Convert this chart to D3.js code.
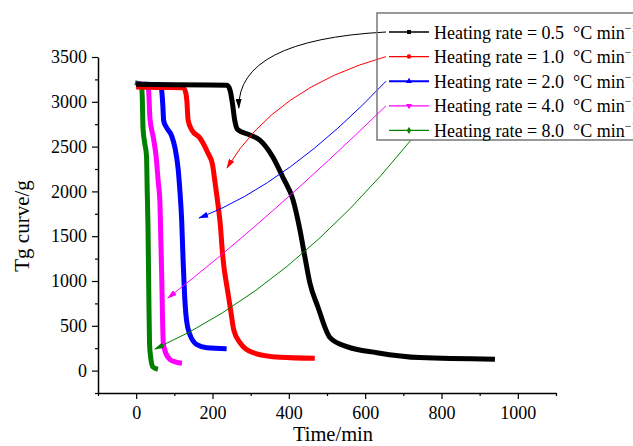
<!DOCTYPE html>
<html>
<head>
<meta charset="utf-8">
<script src="https://cdn.jsdelivr.net/npm/d3@7"></script>
<style>
  body { margin: 0; background: #fff; }
  svg, svg text { font-family: "Liberation Serif", "Times New Roman", serif; }
</style>
</head>
<body>
<div id="chart"></div>
<script>
// heating rates (°C/min) shown in legend
const rates = ["0.5", "1.0", "2.0", "4.0", "8.0"];
const colors = ["#000000", "#ff0000", "#0000ff", "#ff00ff", "#008000"];

// Tg curves, [time min, mass g]
const tg05 = [[0, 3195], [100, 3190], [238, 3186], [246, 3130], [252, 2990], [258, 2800], [266, 2690],
    [298, 2630], [324, 2573], [358, 2384], [384, 2161], [411, 1905], [429, 1571], [442, 1270],
    [455, 980], [476, 713], [508, 368], [552, 267], [631, 200], [743, 145], [940, 128]];
const tg10 = [[0, 3165], [60, 3160], [123, 3158], [130, 3100], [133, 3000], [136, 2796], [146, 2685],
    [167, 2596], [188, 2428], [200, 2300], [206, 2120], [213, 1900], [220, 1649], [227, 1270],
    [240, 880], [248, 660], [256, 450], [272, 312], [306, 200], [377, 150], [468, 138]];
const tg20 = [[0, 3195], [60, 3190], [66, 3150], [70, 2950], [72, 2790], [80, 2710], [93, 2620],
    [102, 2480], [110, 2250], [115, 1980], [119, 1700], [123, 1230], [128, 760], [132, 560],
    [141, 400], [159, 290], [185, 256], [237, 245]];
const tg40 = [[0, 3200], [30, 3195], [33, 3100], [36, 2820], [45, 2600], [52, 2400], [58, 2100],
    [62, 1900], [65, 1400], [67, 1047], [69, 600], [71, 312], [78, 190], [89, 123], [105, 95], [120, 82]];
const tg80 = [[-3, 3215], [5, 3205], [14, 3190], [16, 3050], [18, 2700], [22, 2550], [27, 2400],
    [29, 2000], [31, 1600], [33, 900], [35, 300], [38, 150], [44, 40], [57, 15]];
const series = [tg05, tg10, tg20, tg40, tg80];

// arrow tip and bend point, in data units
const arrowTips = [[269, 2931], [238, 2261], [165, 1703], [83, 810], [49, 241]];
const arrowBends = [[265, 3690], [364, 3159], [400, 2088], [347, 1686], [407, 922]];

const xTicks = [0, 200, 400, 600, 800, 1000];
const xMinor = [-100, 100, 300, 500, 700, 900, 1100];
const yTicks = [0, 500, 1000, 1500, 2000, 2500, 3000, 3500];
const yMinor = [-250, 250, 750, 1250, 1750, 2250, 2750, 3250];

function drawTg(div) {
    let margin = {top: 57, right: 77, bottom: 53, left: 98},
        width = 633 - margin.left - margin.right,
        height = 446 - margin.top - margin.bottom;

    let svg = d3.select(div)
        .append("svg")
            .attr("width", 633)
            .attr("height", 446);

    let g = svg.append("g")
        .attr("transform", `translate(${margin.left},${margin.top})`);

    let x = d3.scaleLinear().domain([-100, 1100]).range([0, width]);
    let y = d3.scaleLinear().domain([-250, 3500]).range([height, 0]);

    // minor ticks first, then major axes
    g.append("g")
        .attr("transform", `translate(0,${height})`)
        .call(d3.axisBottom(x).tickValues(xMinor).tickSize(3).tickFormat(""))
        .call(a => a.select(".domain").remove());
    g.append("g")
        .call(d3.axisLeft(y).tickValues(yMinor).tickSize(3).tickFormat(""))
        .call(a => a.select(".domain").remove());

    let xAxis = g.append("g")
        .attr("transform", `translate(0,${height})`)
        .call(d3.axisBottom(x).tickValues(xTicks).tickFormat(d3.format("d"))
            .tickSize(6).tickSizeOuter(0).tickPadding(7));
    let yAxis = g.append("g")
        .call(d3.axisLeft(y).tickValues(yTicks).tickFormat(d3.format("d"))
            .tickSize(6).tickSizeOuter(0).tickPadding(5));

    [xAxis, yAxis].forEach(a => {
        a.attr("font-family", null).attr("font-size", 18);
        a.selectAll("text")
            .attr("fill", "#000")
            .style("font-family", "'Liberation Serif', serif");
        a.select(".domain").attr("stroke-width", 1.5);
    });
    g.selectAll(".tick line").attr("stroke-width", 1.2);

    svg.append("text")
        .attr("x", 333).attr("y", 441)
        .attr("text-anchor", "middle")
        .attr("font-size", 20.5)
        .text("Time/min");
    svg.append("text")
        .attr("transform", "translate(29,226) rotate(-90)")
        .attr("text-anchor", "middle")
        .attr("font-size", 21)
        .text("Tg curve/g");

    let line = d3.line()
        .x(d => x(d[0]))
        .y(d => y(d[1]))
        .curve(d3.curveMonotoneX);

    // draw slow rate last so it sits on top like the original
    g.append("g")
        .selectAll("path")
        .data(series.map((s, i) => ({s: s, i: i})).reverse())
        .join("path")
            .attr("fill", "none")
            .attr("stroke", d => colors[d.i])
            .attr("stroke-width", 5)
            .attr("stroke-linejoin", "round")
            .attr("d", d => line(d.s));

    // legend layout
    let lgX = 377, lgY = 13, rowH = 24.6, row0 = 32;

    // arrow heads
    let defs = svg.append("defs");
    colors.forEach((c, i) => {
        defs.append("marker")
            .attr("id", "ah" + i)
            .attr("markerUnits", "userSpaceOnUse")
            .attr("viewBox", "0 0 10 6")
            .attr("markerWidth", 10).attr("markerHeight", 6)
            .attr("refX", 9).attr("refY", 3)
            .attr("orient", "auto")
            .append("path")
                .attr("d", "M0,0L10,3L0,6Z")
                .attr("fill", c);
    });

    svg.append("g")
        .selectAll("path")
        .data(arrowTips)
        .join("path")
            .attr("fill", "none")
            .attr("stroke", (d, i) => colors[i])
            .attr("stroke-width", 1)
            .attr("marker-end", (d, i) => `url(#ah${i})`)
            .attr("d", (d, i) => {
                let sx = i === 4 ? 411 : 386;
                let sy = i === 4 ? 140 : row0 + i * rowH;
                let b = arrowBends[i];
                return `M${sx},${sy}Q${margin.left + x(b[0])},${margin.top + y(b[1])} ${margin.left + x(d[0])},${margin.top + y(d[1])}`;
            });

    let legend = svg.append("g");
    legend.append("rect")
        .attr("x", lgX).attr("y", lgY)
        .attr("width", 280).attr("height", 127)
        .attr("fill", "none")
        .attr("stroke", "#777")
        .attr("stroke-width", 1.5);

    let symbols = [d3.symbolSquare, d3.symbolCircle, d3.symbolTriangle, d3.symbolTriangle, d3.symbolDiamond];
    rates.forEach((r, i) => {
        let cy = row0 + i * rowH;
        legend.append("line")
            .attr("x1", 389).attr("x2", 429)
            .attr("y1", cy).attr("y2", cy)
            .attr("stroke", colors[i])
            .attr("stroke-width", i === 2 ? 2 : 1.3);
        legend.append("path")
            .attr("d", d3.symbol(symbols[i], 16)())
            .attr("transform", `translate(409,${cy})` + (i === 3 ? " rotate(180)" : ""))
            .attr("fill", colors[i]);
        let t = legend.append("text")
            .attr("x", 434).attr("y", cy + 6.5)
            .attr("font-size", 18)
            .style("white-space", "pre");
        t.append("tspan").text(`Heating rate = ${r}  °C min`);
        t.append("tspan").attr("font-size", 12).attr("dy", -7).text("−1");
    });
}

drawTg(document.getElementById("chart"));
</script>
</body>
</html>
